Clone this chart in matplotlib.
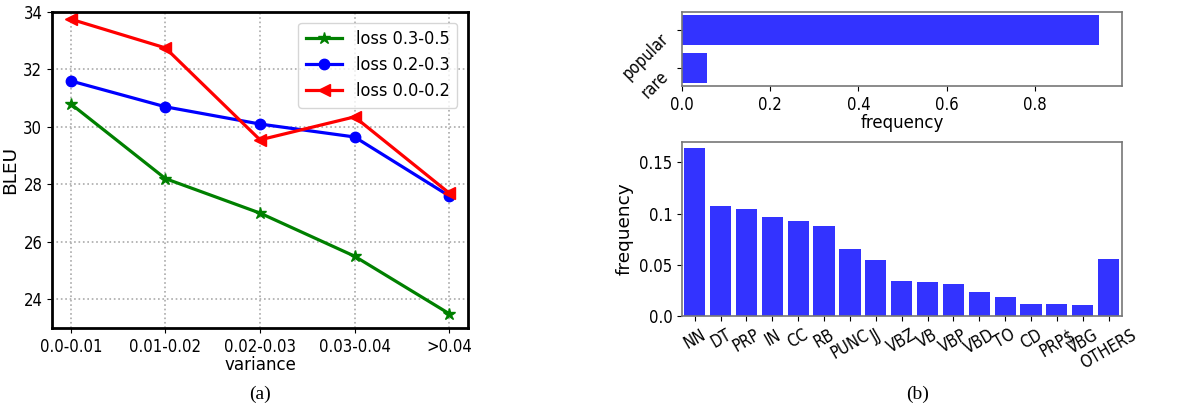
import matplotlib
matplotlib.use("Agg")
import matplotlib.pyplot as plt
import numpy as np

# the source figure looks squeezed sideways, condensed glyphs get close to that
plt.rcParams["font.stretch"] = "condensed"

# ── data ─────────────────────────────────────────────────────────────────────
variance_bins = ["0.0-0.01", "0.01-0.02", "0.02-0.03", "0.03-0.04", ">0.04"]
bleu_loss_03_05 = [30.8, 28.2, 27.0, 25.5, 23.5]
bleu_loss_02_03 = [31.6, 30.7, 30.1, 29.65, 27.6]
bleu_loss_00_02 = [33.75, 32.75, 29.55, 30.35, 27.7]

word_groups = ["popular", "rare"]
word_freq   = [0.946, 0.056]

pos_tags = ["NN", "DT", "PRP", "IN", "CC", "RB", "PUNC", "JJ", "VBZ", "VB",
            "VBP", "VBD", "TO", "CD", "PRP$", "VBG", "OTHERS"]
pos_freq = [0.164, 0.107, 0.1045, 0.0967, 0.0927, 0.0879, 0.0654, 0.0547,
            0.0342, 0.0332, 0.0312, 0.0234, 0.0185, 0.0117, 0.0117, 0.0107, 0.0556]

BAR  = "#3333ff"
FS   = 12      # tick labels
LFS  = 13.3    # axis labels
YLAB = dict(fontsize=LFS, fontstretch="normal")

fig = plt.figure(figsize=(11.87, 4.13), dpi=100)

# ── (a) BLEU vs variance ────────────────────────────────────────────────────
ax = fig.add_axes([0.0438, 0.2058, 0.3505, 0.7651])
x = np.arange(len(variance_bins))
ax.plot(x, bleu_loss_03_05, color="green", marker="*", ms=9, lw=2.3, label="loss 0.3-0.5")
ax.plot(x, bleu_loss_02_03, color="blue", marker="o", ms=7.5, lw=2.3, label="loss 0.2-0.3")
ax.plot(x, bleu_loss_00_02, color="red", marker="<", ms=8, lw=2.3, label="loss 0.0-0.2")
ax.set_xticks(x)
ax.set_xticklabels(variance_bins, fontsize=FS)
ax.set_yticks([24, 26, 28, 30, 32, 34])
ax.tick_params(axis="y", labelsize=FS)
ax.set_xlim(-0.2, 4.2)
ax.set_ylim(23.0, 34.0)
ax.set_xlabel("variance", fontsize=LFS, labelpad=0)
ax.set_ylabel("BLEU", labelpad=3, **YLAB)
ax.grid(True, ls=":", color="#aaaaaa", lw=1.2)
for sp in ax.spines.values():
    sp.set_linewidth(2)
    sp.set_color("black")
ax.legend(loc="upper right", fontsize=13, handlelength=2.0, borderaxespad=0.6,
          labelspacing=0.45)
fig.text(0.219, 0.035, "(a)", ha="center", fontsize=14, family="Liberation Serif")

# ── (b) top: popular / rare ─────────────────────────────────────────────────
ax1 = fig.add_axes([0.5746, 0.7918, 0.3707, 0.1792])
y = np.arange(len(word_groups))
ax1.barh(y, word_freq, height=0.78, color=BAR)
ax1.set_yticks(y)
ax1.set_yticklabels(word_groups, rotation=45, fontsize=FS, va="top")
ax1.set_ylim(1.47, -0.46)
ax1.set_xlim(0, 0.998)
ax1.set_xticks([0.0, 0.2, 0.4, 0.6, 0.8])
ax1.tick_params(axis="x", labelsize=FS)
ax1.set_xlabel("frequency", fontsize=LFS, labelpad=0)
for sp in ax1.spines.values():
    sp.set_color("#777777")
    sp.set_linewidth(1.2)

# ── (b) bottom: POS tags ────────────────────────────────────────────────────
ax2 = fig.add_axes([0.5746, 0.2349, 0.3707, 0.4213])
xp = np.arange(len(pos_tags))
ax2.bar(xp, pos_freq, width=0.82, color=BAR)
ax2.set_xticks(xp)
ax2.set_xticklabels(pos_tags, rotation=30, fontsize=FS, ha="center")
ax2.set_xlim(-0.49, 16.52)
ax2.set_ylim(0, 0.17)
ax2.set_yticks([0.0, 0.05, 0.1, 0.15])
ax2.set_yticklabels(["0.0", "0.05", "0.1", "0.15"])
ax2.tick_params(axis="y", labelsize=FS)
ax2.set_ylabel("frequency", labelpad=4, **YLAB)
for sp in ax2.spines.values():
    sp.set_color("#777777")
    sp.set_linewidth(1.2)
fig.text(0.773, 0.035, "(b)", ha="center", fontsize=14, family="Liberation Serif")

fig.savefig("out.png", dpi=100)
